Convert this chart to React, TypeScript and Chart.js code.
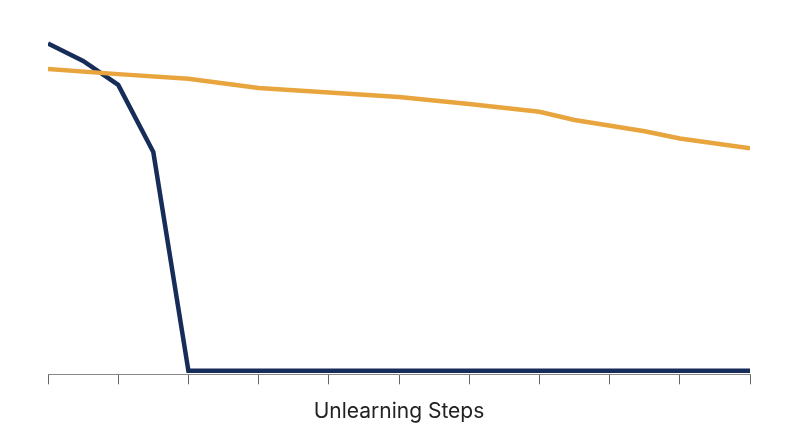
import { useEffect, useRef } from "react";
import { Chart, registerables, type ChartConfiguration } from "chart.js";

Chart.register(...registerables);

// unlearning step positions (0..10) and measured values
const forgetSteps = [0, 0.5, 1, 1.5, 2, 3, 4, 5, 6, 7, 8, 9, 10];
const forgetValues = [94.1, 89.1, 82.2, 62.9, 0, 0, 0, 0, 0, 0, 0, 0, 0];

const retainSteps = [0, 1, 2, 3, 4, 5, 6, 7, 7.5, 8.5, 9, 10];
const retainValues = [86.8, 85.3, 84.0, 81.3, 80.0, 78.7, 76.7, 74.5, 72.1, 68.9, 66.8, 64.0];

const xAxisTitle = "Unlearning Steps";

export default function App() {
  const canvasRef = useRef<HTMLCanvasElement | null>(null);

  useEffect(() => {
    document.body.style.margin = "0";
    const canvas = canvasRef.current;
    if (!canvas) return;

    const config: ChartConfiguration<"line"> = {
      type: "line",
      data: {
        datasets: [
          {
            label: "Retain",
            data: retainSteps.map((x, i) => ({ x, y: retainValues[i] })),
            borderColor: "#e8a53e",
            borderWidth: 4.5,
            pointRadius: 0,
            tension: 0,
          },
          {
            label: "Forget",
            data: forgetSteps.map((x, i) => ({ x, y: forgetValues[i] })),
            borderColor: "#172d59",
            borderWidth: 4.5,
            pointRadius: 0,
            tension: 0,
            borderJoinStyle: "miter",
          },
        ],
      },
      options: {
        animation: false,
        responsive: true,
        maintainAspectRatio: false,
        layout: { padding: { left: 48, right: 50, top: 23, bottom: 0 } },
        plugins: { legend: { display: false }, tooltip: { enabled: false } },
        scales: {
          x: {
            type: "linear",
            min: 0,
            max: 10,
            ticks: { display: false, stepSize: 1 },
            grid: {
              display: true,
              drawOnChartArea: false,
              drawTicks: true,
              tickLength: 10,
              color: "#666666",
              lineWidth: 1,
            },
            border: { display: true, color: "#888888", width: 1 },
            title: {
              display: true,
              text: xAxisTitle,
              color: "#222222",
              font: { family: "Inter", size: 21 },
              padding: { top: 15, bottom: 22.5 },
            },
          },
          y: {
            display: false,
            min: -1,
            max: 100,
          },
        },
      },
    };

    const chart = new Chart(canvas, config);
    return () => chart.destroy();
  }, []);

  return (
    <div style={{ position: "relative", width: 800, height: 447, background: "#ffffff" }}>
      <canvas ref={canvasRef} />
    </div>
  );
}
